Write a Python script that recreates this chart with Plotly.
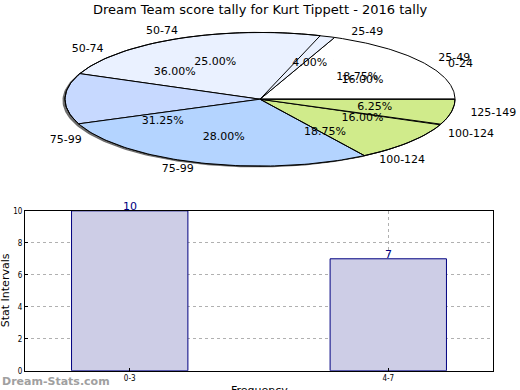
import numpy as np
import plotly.graph_objects as go

# ---- data ----
title_text = "Dream Team score tally for Kurt Tippett - 2016 tally"
pie_a_labels = ['0-24', '25-49', '50-74', '75-99', '100-124']
pie_a_counts = [4, 1, 9, 7, 4]
pie_b_labels = ['25-49', '50-74', '75-99', '100-124', '125-149']
pie_b_counts = [3, 4, 5, 3, 1]
bar_categories = ['0-3', '4-7']
bar_values = [10, 7]
y_ticks = [0, 2, 4, 6, 8, 10]

# ---- styles ----
pie_b_fill = ['#ffffff', '#eaf1ff', '#c7d9ff', '#d0eb8b', '#d0eb8b']
pie_b_line = [1, 1, 1, 1, 1]
pie_a_fill = ['rgba(0,0,0,0)', 'rgba(0,0,0,0)', 'rgba(0,0,0,0)', '#b4d4ff', 'rgba(0,0,0,0)']
pie_a_line = [0, 0, 1, 1, 1]

W, H = 520, 397


def py(v):
    # vertical pixel position (from top) -> layout pixel, compensating the capture
    return (v - 4.3) / 0.972


def paper_y(v):
    return 1 - py(v) / H


fig = go.Figure()


def wedges(counts):
    vals = np.array(counts, dtype=float)
    frac = vals / vals.sum()
    ends = np.cumsum(frac) * 360.0
    starts = ends - frac * 360.0
    return frac, starts, ends


def add_pie(labels, counts, fills, lines):
    frac, starts, ends = wedges(counts)
    for i in range(len(labels)):
        th = np.radians(np.linspace(starts[i], ends[i], 80))
        xs = np.concatenate([[0], np.cos(th), [0]])
        ys = np.concatenate([[0], np.sin(th), [0]])
        fig.add_trace(go.Scatter(
            x=xs, y=ys, mode='lines', fill='toself', fillcolor=fills[i],
            line=dict(color='black', width=lines[i] if lines[i] else 0.01),
            xaxis='x2', yaxis='y2', hoverinfo='skip', showlegend=False))


def add_pie_text(labels, counts):
    frac, starts, ends = wedges(counts)
    mids = np.radians((starts + ends) / 2)
    lx = 1.1 * np.cos(mids)
    ly = 1.1 * np.sin(mids)
    pos = ['middle right' if v > 0 else 'middle left' for v in lx]
    fig.add_trace(go.Scatter(
        x=lx, y=ly, mode='text', text=labels, textposition=pos,
        textfont=dict(family='DejaVu Sans', size=11, color='black'),
        xaxis='x2', yaxis='y2', hoverinfo='skip', showlegend=False))
    fig.add_trace(go.Scatter(
        x=0.6 * np.cos(mids), y=0.6 * np.sin(mids), mode='text',
        text=['%.2f%%' % (f * 100) for f in frac], textposition='middle center',
        textfont=dict(family='DejaVu Sans', size=11, color='black'),
        xaxis='x2', yaxis='y2', hoverinfo='skip', showlegend=False))


# shadow
th = np.radians(np.linspace(0, 360, 300))
fig.add_trace(go.Scatter(
    x=np.cos(th) - 0.013, y=np.sin(th) - 0.02, mode='lines', fill='toself',
    fillcolor='rgba(60,60,60,0.75)', line=dict(width=0),
    xaxis='x2', yaxis='y2', hoverinfo='skip', showlegend=False))

add_pie(pie_b_labels, pie_b_counts, pie_b_fill, pie_b_line)
add_pie(pie_a_labels, pie_a_counts, pie_a_fill, pie_a_line)
add_pie_text(pie_a_labels, pie_a_counts)
add_pie_text(pie_b_labels, pie_b_counts)

# bar chart
fig.add_trace(go.Bar(
    x=bar_categories, y=bar_values, width=0.45,
    marker=dict(color='#cdcde6', line=dict(color='#000080', width=1)),
    hoverinfo='skip', showlegend=False))

annotations = []
for c, v in zip(bar_categories, bar_values):
    annotations.append(dict(x=c, y=v, xref='x', yref='y', text=str(v), showarrow=False,
                            yanchor='bottom', yshift=-4,
                            font=dict(family='DejaVu Sans', size=11, color='#000080')))

annotations += [
    dict(x=0.5, y=paper_y(10), xref='paper', yref='paper', text=title_text, showarrow=False,
         xanchor='center', yanchor='middle', font=dict(family='DejaVu Sans', size=13, color='black')),
    dict(x=5 / W, y=paper_y(289), xref='paper', yref='paper', text='Stat Intervals', showarrow=False,
         textangle=-90, xanchor='center', yanchor='middle',
         font=dict(family='DejaVu Sans', size=11, color='black')),
    dict(x=259 / W, y=paper_y(389), xref='paper', yref='paper', text='Frequency', showarrow=False,
         xanchor='center', yanchor='middle',
         font=dict(family='DejaVu Sans', size=11, color='black')),
    dict(x=0, y=paper_y(380), xref='paper', yref='paper', text='<b>Dream-Stats.com</b>', showarrow=False,
         xanchor='left', yanchor='middle', font=dict(family='DejaVu Sans', size=11, color='#a0a0a0')),
]

cx = 260.0
a = 195.0
cy = py(99.0)
b = 66.5 / 0.972
pie_bottom = py(190.0)
fig.update_layout(
    width=W, height=H, margin=dict(l=0, r=0, t=0, b=0),
    paper_bgcolor='white', plot_bgcolor='white',
    showlegend=False, annotations=annotations,
    xaxis=dict(domain=[25 / W, 493 / W], type='category', range=[-0.405, 1.405],
               showgrid=True, gridcolor='#b0b0b0', griddash='dot', gridwidth=1,
               showline=True, linecolor='black', linewidth=1, mirror=True,
               ticks='inside', ticklen=3, tickcolor='black',
               tickfont=dict(family='DejaVu Sans Condensed, DejaVu Sans', size=8, color='black'),
               fixedrange=True),
    yaxis=dict(domain=[paper_y(369), paper_y(210)], range=[0, 10], tickvals=y_ticks,
               showgrid=True, gridcolor='#b0b0b0', griddash='dot', gridwidth=1,
               showline=True, linecolor='black', linewidth=1, mirror=True, zeroline=False,
               ticks='inside', ticklen=3, tickcolor='black',
               tickfont=dict(family='DejaVu Sans Condensed, DejaVu Sans', size=8, color='black'),
               fixedrange=True),
    xaxis2=dict(domain=[0, 1], range=[-cx / a, (W - cx) / a], visible=False, fixedrange=True),
    yaxis2=dict(domain=[1 - pie_bottom / H, 1], range=[-(pie_bottom - cy) / b, cy / b],
                visible=False, fixedrange=True),
)

post = (
    "document.documentElement.style.margin='0';"
    "document.documentElement.style.overflow='hidden';"
    "document.body.style.margin='0';"
    "document.body.style.overflow='hidden';"
    "var g=document.getElementsByClassName('plotly-graph-div')[0];"
    "g.style.position='fixed';g.style.top='0px';g.style.left='0px';g.style.overflow='hidden';"
)
fig.write_html("out.html", config={'displayModeBar': False, 'staticPlot': True}, post_script=post)
